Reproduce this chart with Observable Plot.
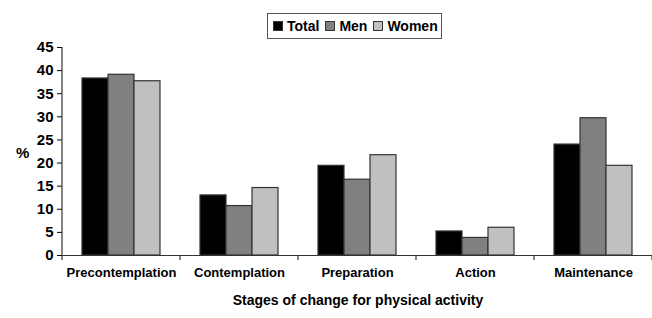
<!DOCTYPE html>
<html><head><meta charset="utf-8">
<script src="https://cdn.jsdelivr.net/npm/d3@7"></script>
<script src="https://cdn.jsdelivr.net/npm/@observablehq/plot@0.6"></script>
<style>
body{margin:0;background:#fff;font-family:"Liberation Sans",Arial,sans-serif;}
#wrap{position:relative;width:652px;height:318px;}
#legend{position:absolute;left:267px;top:13px;width:175px;height:26px;border:1.5px solid #555;box-sizing:border-box;display:flex;align-items:center;padding-left:5px;gap:6px;font-weight:bold;font-size:14px;color:#000;background:#fff;}
#legend .item{display:flex;align-items:center;gap:4px;}
#legend .sw{width:8px;height:8px;border:1px solid #333;}
.lbl{position:absolute;font-weight:bold;color:#000;white-space:nowrap;}
#ylab{left:16px;top:144px;font-size:15px;}
#xtitle{left:0;width:716px;text-align:center;top:292px;font-size:14px;}
svg [aria-label="fx-axis tick label"]{font-size:13px;}
</style>
</head><body>
<div id="wrap">
  <div id="legend"></div>
  <div class="lbl" id="ylab">%</div>
  <div class="lbl" id="xtitle">Stages of change for physical activity</div>
</div>
<script>
const stages = ["Precontemplation","Contemplation","Preparation","Action","Maintenance"];
const series = ["Total","Men","Women"];
const total = [38.3, 13.0, 19.4, 5.2, 24.0];
const men   = [39.1, 10.7, 16.4, 3.8, 29.7];
const women = [37.7, 14.6, 21.7, 6.0, 19.4];
const colors = ["#000000","#808080","#c0c0c0"];
const yTicks = [0,5,10,15,20,25,30,35,40,45];

const values = {Total: total, Men: men, Women: women};
const data = [];
stages.forEach((s,i) => series.forEach(k => data.push({stage:s, series:k, value: values[k][i]})));

const plot = Plot.plot({
  width: 652, height: 318,
  marginLeft: 62, marginRight: 0, marginTop: 47, marginBottom: 63,
  style: {fontFamily: '"Liberation Sans", Arial, sans-serif', fontWeight: "bold", fontSize: "15px", color: "#000", background: "transparent"},
  fx: {domain: stages, padding: 0, label: null, tickSize: 0, tickPadding: 12},
  x: {domain: series, paddingInner: 0, paddingOuter: 0.74, axis: null},
  y: {domain: [0,45], ticks: yTicks, label: null, tickSize: 5, tickPadding: 4},
  color: {domain: series, range: colors},
  marks: [
    Plot.barY(data, {fx: "stage", x: "series", y: "value", fill: "series", stroke: "#333", strokeWidth: 1.2}),
    Plot.ruleY([0], {stroke: "#333", strokeWidth: 1.2})
  ]
});

// axis line and category boundary ticks from the plot's own scales
const fxs = plot.scale("fx");
const ys = plot.scale("y");
const band = d3.scaleBand().domain(fxs.domain).range(fxs.range).paddingInner(0).paddingOuter(0);
const y0 = ys.apply(0), yTop = ys.apply(45);
const svg = d3.select(plot);
const g = svg.append("g").attr("stroke", "#333").attr("stroke-width", 1.2);
g.append("line").attr("x1", fxs.range[0]).attr("x2", fxs.range[0]).attr("y1", yTop).attr("y2", y0);
const bounds = fxs.domain.map(d => band(d)).concat([band(fxs.domain[fxs.domain.length-1]) + band.bandwidth()]);
bounds.forEach(b => g.append("line").attr("x1", b).attr("x2", b).attr("y1", y0).attr("y2", y0 + 5));

const wrap = document.getElementById("wrap");
wrap.insertBefore(plot, wrap.firstChild);
plot.style.position = "absolute"; plot.style.left = "0"; plot.style.top = "0";

const legend = document.getElementById("legend");
series.forEach((k,i) => {
  const it = document.createElement("div"); it.className = "item";
  const sw = document.createElement("div"); sw.className = "sw"; sw.style.background = colors[i];
  const t = document.createElement("span"); t.textContent = k;
  it.appendChild(sw); it.appendChild(t); legend.appendChild(it);
});
</script>
</body></html>
